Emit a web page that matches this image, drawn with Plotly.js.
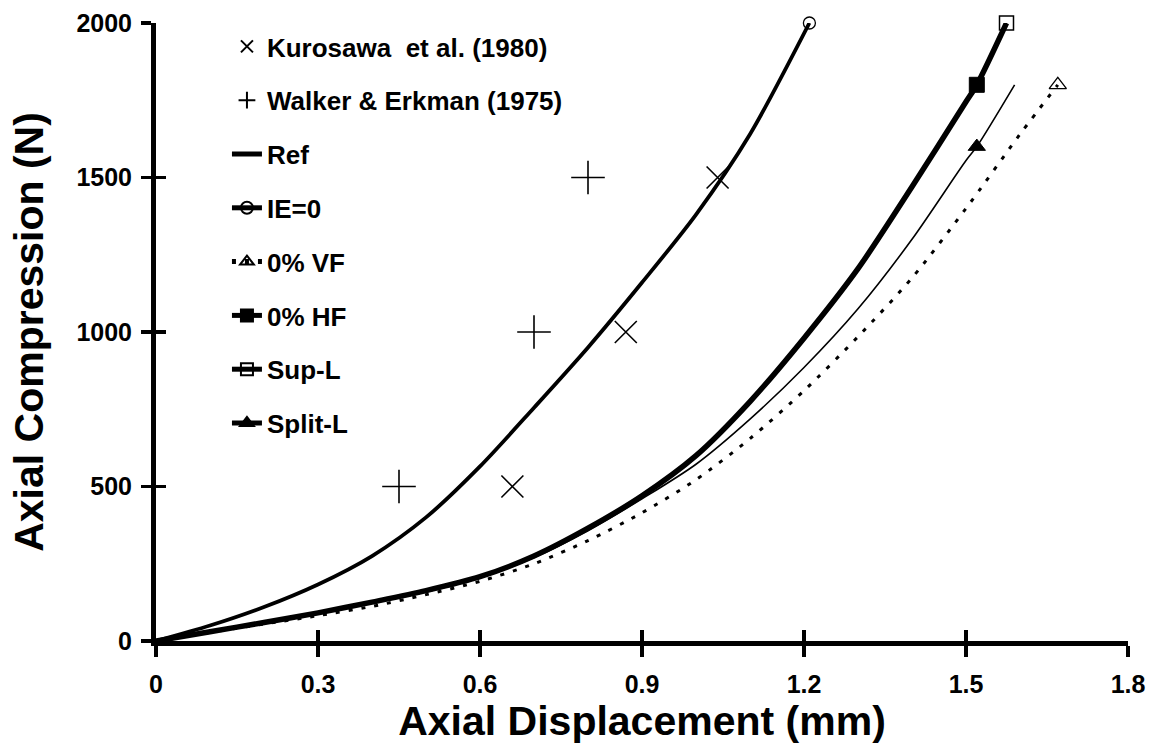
<!DOCTYPE html>
<html><head><meta charset="utf-8">
<script src="https://cdn.plot.ly/plotly-3.0.1.min.js"></script>
<style>html,body{margin:0;padding:0;background:#fff;}#chart{width:1156px;height:754px;}</style>
</head><body><div id="chart"></div>
<script>
// Experimental data
const kuroX = [0.66, 0.87, 1.04];
const kuroY = [500, 1000, 1500];
const walkX = [0.45, 0.70, 0.80];
const walkY = [500, 1000, 1500];
// Model curves
const ieX = [0, 0.1, 0.2, 0.3, 0.4, 0.5, 0.6, 0.7, 0.8, 0.9, 1.0, 1.1, 1.21];
const ieY = [0, 50, 110, 183, 275, 400, 565, 755, 950, 1160, 1380, 1640, 2000];
const refX = [0, 0.1, 0.2, 0.3, 0.4, 0.5, 0.6, 0.7, 0.8, 0.9, 1.0, 1.1, 1.2, 1.3, 1.4, 1.5, 1.52, 1.575];
const refY = [0, 30, 60, 91, 126, 163, 208, 275, 365, 470, 600, 775, 980, 1205, 1470, 1745, 1800, 2000];
const hfX = [0, 0.1, 0.2, 0.3, 0.4, 0.5, 0.6, 0.7, 0.8, 0.9, 1.0, 1.1, 1.2, 1.3, 1.4, 1.5, 1.52];
const hfY = [0, 30, 60, 91, 126, 163, 208, 275, 365, 470, 600, 775, 980, 1205, 1470, 1745, 1800];
const supX = [0, 0.1, 0.2, 0.3, 0.4, 0.5, 0.6, 0.7, 0.8, 0.9, 1.0, 1.1, 1.2, 1.3, 1.4, 1.5, 1.52, 1.575];
const supY = [0, 30, 60, 91, 126, 163, 208, 275, 365, 470, 600, 775, 980, 1205, 1470, 1745, 1800, 2000];
const splitX = [0, 0.1, 0.2, 0.3, 0.4, 0.5, 0.6, 0.7, 0.8, 0.9, 1.0, 1.1, 1.2, 1.3, 1.4, 1.5, 1.52, 1.59];
const splitY = [0, 30, 59, 89, 123, 159, 204, 270, 357, 460, 572, 718, 885, 1075, 1300, 1555, 1600, 1800];
const splitMarkX = 1.52;
const vfX = [0, 0.1, 0.2, 0.3, 0.4, 0.5, 0.6, 0.7, 0.8, 0.9, 1.0, 1.1, 1.2, 1.3, 1.4, 1.5, 1.6, 1.67];
const vfY = [0, 28, 55, 82, 112, 150, 193, 250, 325, 415, 522, 655, 810, 985, 1175, 1400, 1640, 1800];
// Axes ticks
const xTicks = [0, 0.3, 0.6, 0.9, 1.2, 1.5, 1.8];
const xTickText = ['0', '0.3', '0.6', '0.9', '1.2', '1.5', '1.8'];
const yTicks = [0, 500, 1000, 1500, 2000];

const FONT = 'Liberation Sans, Arial, sans-serif';
const K = '#000';
function markAt(n, idx, s) { return Array.from({length: n}, (_, i) => i === idx ? s : 0); }
function lastMark(arr, s) { return markAt(arr.length, arr.length - 1, s); }
const SPL = {shape: 'spline', smoothing: 0.8};

const traces = [
  {name: 'Kurosawa  et al. (1980)', x: kuroX, y: kuroY, mode: 'markers', legendgroup: 'a',
   marker: {symbol: 'x-thin-open', size: 22, color: K, opacity: 1, line: {width: 1.6, color: K}}},
  {name: 'Walker &amp; Erkman (1975)', x: walkX, y: walkY, mode: 'markers', legendgroup: 'b',
   marker: {symbol: 'cross-thin-open', size: 24, color: K, opacity: 1, line: {width: 1.6, color: K}}},
  {name: 'Ref', x: refX, y: refY, mode: 'lines', legendgroup: 'c',
   line: Object.assign({color: K, width: 5.5}, SPL)},
  {name: 'IE=0', x: ieX, y: ieY, mode: 'lines+markers', legendgroup: 'd',
   line: Object.assign({color: K, width: 3.8}, SPL),
   marker: {symbol: 'circle-open', size: lastMark(ieX, 12), color: K, opacity: 1, line: {width: lastMark(ieX, 1.3), color: K}}},
  {name: '0% VF', x: vfX, y: vfY, mode: 'lines+markers', legendgroup: 'e',
   line: Object.assign({color: K, width: 3, dash: '4px,9px'}, SPL),
   marker: {symbol: 'triangle-up-open', size: lastMark(vfX, 15), color: K, opacity: 1, line: {width: lastMark(vfX, 1.3), color: K}}},
  {name: '0% HF', x: hfX, y: hfY, mode: 'lines+markers', legendgroup: 'f',
   line: Object.assign({color: K, width: 1.5}, SPL),
   marker: {symbol: 'square', size: lastMark(hfX, 15), color: K, opacity: 1, line: {width: lastMark(hfX, 1), color: K}}},
  {name: 'Sup-L', x: supX, y: supY, mode: 'lines+markers', legendgroup: 'g',
   line: Object.assign({color: K, width: 1.5}, SPL),
   marker: {symbol: 'square-open', size: lastMark(supX, 14), color: K, opacity: 1, line: {width: lastMark(supX, 1.5), color: K}}},
  {name: 'Split-L', x: splitX, y: splitY, mode: 'lines+markers', legendgroup: 'h',
   line: Object.assign({color: K, width: 1.6}, SPL),
   marker: {symbol: 'triangle-up', size: markAt(splitX.length, splitX.indexOf(splitMarkX), 15), color: K, opacity: 1,
            line: {width: markAt(splitX.length, splitX.indexOf(splitMarkX), 1), color: K}}},
  {x: [], y: [], xaxis: 'x2', yaxis: 'y2', mode: 'markers', showlegend: false, hoverinfo: 'skip'}
];
traces.forEach(t => { t.type = 'scatter'; t.cliponaxis = false; });

const tickFont = {family: FONT, size: 25, color: K, weight: 'bold'};
const titleFont = {family: FONT, size: 41, color: K, weight: 'bold'};
const layout = {
  width: 1156, height: 754,
  margin: {l: 156, r: 28, t: 23, b: 113},
  paper_bgcolor: '#fff', plot_bgcolor: '#fff',
  showlegend: true,
  legend: {x: 0.073, xanchor: 'left', y: 1.0, yanchor: 'top', bgcolor: 'rgba(0,0,0,0)',
           font: {family: FONT, size: 26, color: K, weight: 'bold'}, maxheight: 700,
           tracegroupgap: 17, itemsizing: 'constant', traceorder: 'grouped'},
  xaxis: {range: [0, 1.8], tickvals: xTicks, ticktext: xTickText, showgrid: false, zeroline: false,
          showline: true, linewidth: 5, linecolor: K, ticks: 'outside', ticklen: 11, tickwidth: 3.5, tickcolor: K,
          tickfont: tickFont, ticklabelstandoff: 6,
          title: {text: 'Axial Displacement (mm)', font: titleFont, standoff: 6}},
  yaxis: {range: [0, 2000], tickvals: yTicks, showgrid: false, zeroline: false,
          showline: true, linewidth: 5, linecolor: K, ticks: 'outside', ticklen: 10, tickwidth: 3.5, tickcolor: K,
          tickfont: tickFont, ticklabelstandoff: 4,
          title: {text: 'Axial Compression (N)', font: titleFont, standoff: 22}},
  xaxis2: {overlaying: 'x', anchor: 'y', side: 'bottom', range: [0, 1.8], tickvals: xTicks, showticklabels: false,
           showgrid: false, zeroline: false, showline: false, ticks: 'inside', ticklen: 11, tickwidth: 3.5, tickcolor: K},
  yaxis2: {overlaying: 'y', anchor: 'x', side: 'left', range: [0, 2000], tickvals: yTicks, showticklabels: false,
           showgrid: false, zeroline: false, showline: false, ticks: 'inside', ticklen: 10, tickwidth: 3.5, tickcolor: K}
};
Plotly.newPlot('chart', traces, layout, {staticPlot: true, displayModeBar: false});
</script>
</body></html>
